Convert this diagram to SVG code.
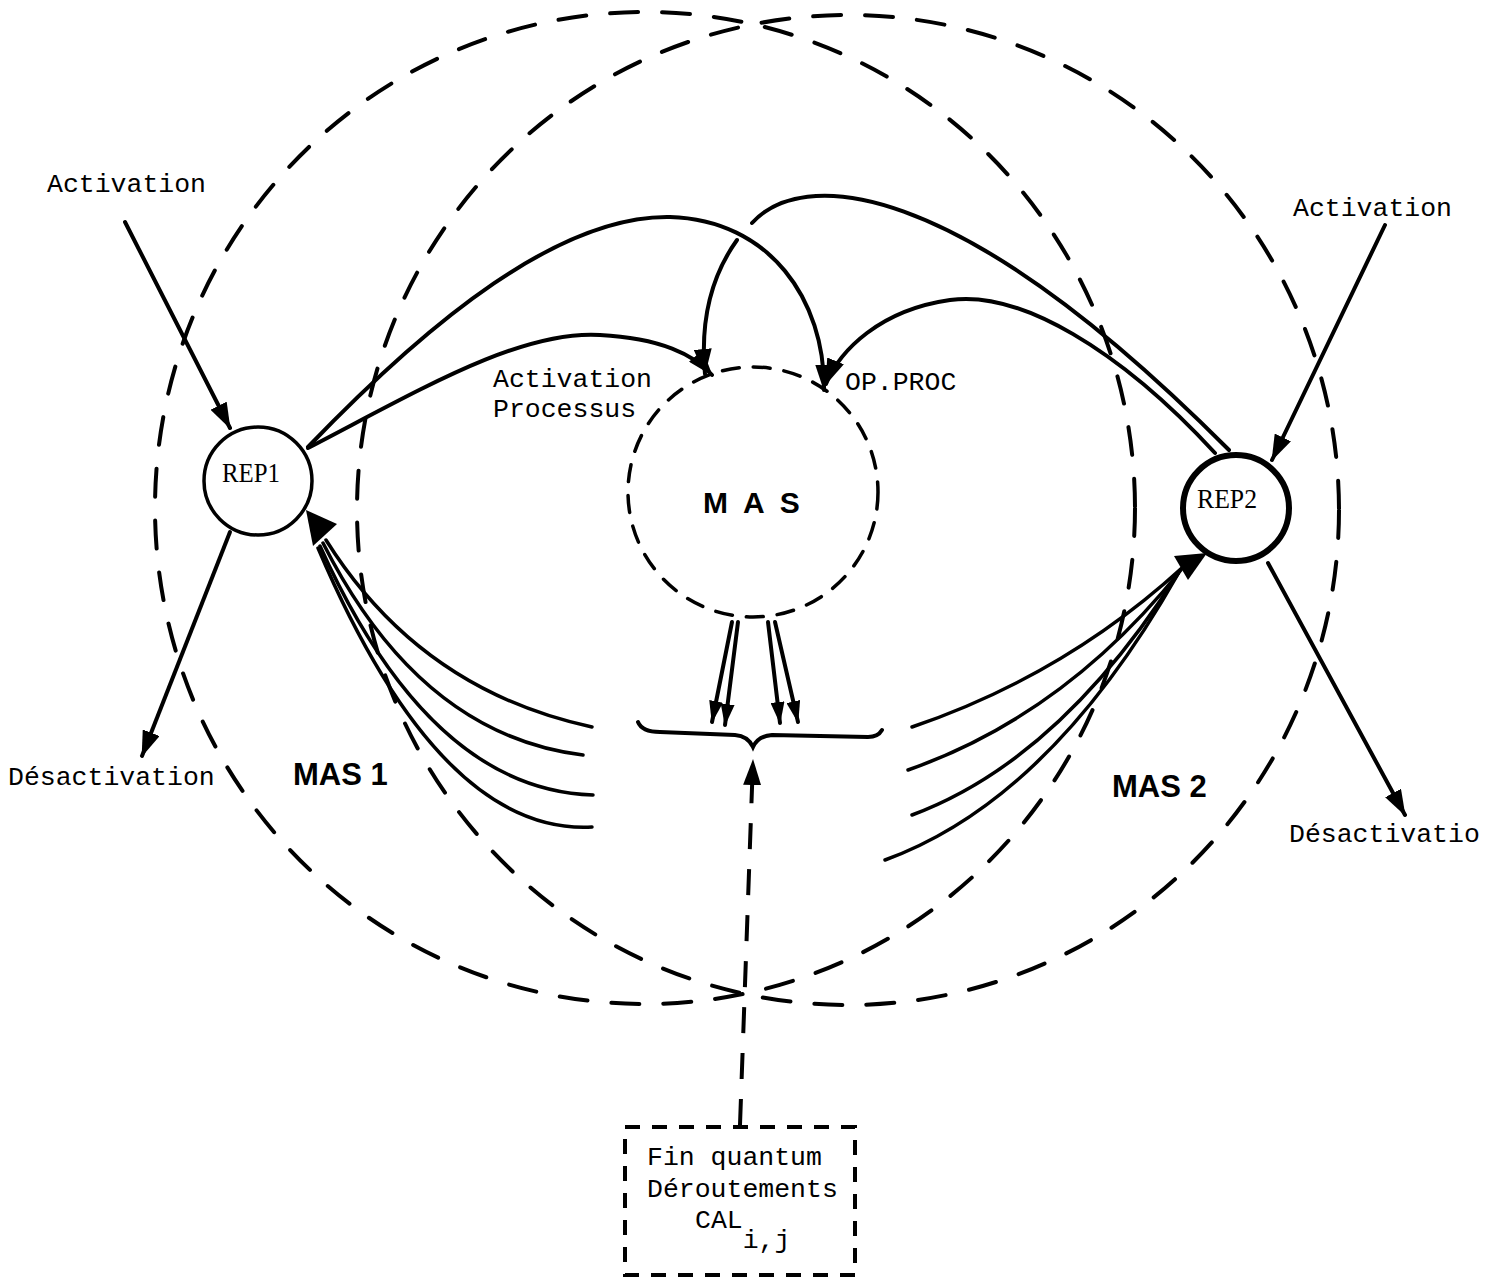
<svg xmlns="http://www.w3.org/2000/svg" width="1495" height="1286" viewBox="0 0 1495 1286">
<style>
.mono{font-family:"Liberation Mono","DejaVu Sans Mono",monospace;font-size:26.5px;fill:#000}
.serif{font-family:"Liberation Serif","Times New Roman",serif;font-size:27px;fill:#000}
.bold{font-family:"Liberation Sans",Arial,sans-serif;font-weight:bold;font-size:31px;fill:#000}
.line{fill:none;stroke:#000;stroke-width:4;stroke-linecap:round}
.thin{fill:none;stroke:#000;stroke-width:3.5;stroke-linecap:round}
.big{fill:none;stroke:#000;stroke-width:4;stroke-dasharray:28 24;stroke-linecap:round}
.mas{fill:none;stroke:#000;stroke-width:3.5;stroke-dasharray:17 14;stroke-linecap:round}
.box{fill:none;stroke:#000;stroke-width:4;stroke-dasharray:15 12}
.vdash{fill:none;stroke:#000;stroke-width:4;stroke-dasharray:26 20}
.head{fill:#000;stroke:none}
</style>
<defs>
<marker id="ah" viewBox="0 0 26 18" refX="25" refY="9" markerWidth="26" markerHeight="18" markerUnits="userSpaceOnUse" orient="auto"><path d="M0,0 L26,9 L0,18 z" fill="#000"/></marker>
<marker id="ahs" viewBox="0 0 22 14" refX="21" refY="7" markerWidth="22" markerHeight="14" markerUnits="userSpaceOnUse" orient="auto"><path d="M0,0 L22,7 L0,14 z" fill="#000"/></marker>
</defs>
<rect x="0" y="0" width="1495" height="1286" fill="#fff"/>

<g id="mas1-region">
<ellipse class="big" cx="645" cy="508" rx="490" ry="496"/>
<text class="bold" x="293" y="785">MAS 1</text>
</g>
<g id="mas2-region">
<ellipse class="big" cx="848" cy="510" rx="491" ry="495"/>
<text class="bold" x="1112" y="797">MAS 2</text>
</g>

<g id="node-mas">
<circle class="mas" cx="753" cy="492" r="125"/>
<text class="bold" x="703" y="513" style="font-size:30px;letter-spacing:3.9px">M A S</text>
</g>

<g id="node-rep1">
<circle cx="258" cy="481" r="54" fill="#fff" stroke="#000" stroke-width="3.5"/>
<text class="serif" x="222" y="482" textLength="58" lengthAdjust="spacingAndGlyphs">REP1</text>
</g>

<g id="node-rep2">
<circle cx="1236" cy="508" r="53" fill="#fff" stroke="#000" stroke-width="6"/>
<text class="serif" x="1197" y="508" textLength="60" lengthAdjust="spacingAndGlyphs">REP2</text>
</g>

<g id="node-box">
<rect class="box" x="625" y="1127" width="230" height="148"/>
<text class="mono" x="647" y="1165">Fin quantum</text>
<text class="mono" x="647" y="1197">Déroutements</text>
<text class="mono" x="695" y="1228">CAL<tspan dy="20">i,j</tspan></text>
</g>

<g id="brace">
<path class="line" d="M638,722 Q642,732 660,732 L735,735 Q748,736 753,747 Q758,736 772,735 L868,737 Q878,737 882,730"/>
</g>

<g id="labels">
<text class="mono" x="47" y="192">Activation</text>
<text class="mono" x="1293" y="216">Activation</text>
<text class="mono" x="8" y="785">Désactivation</text>
<text class="mono" x="1289" y="842">Désactivatio</text>
<text class="mono" x="493" y="387">Activation</text>
<text class="mono" x="493" y="417">Processus</text>
<text class="mono" x="845" y="390">OP.PROC</text>
</g>

<g id="connectors">
<path class="line" d="M125,222 L230,428" marker-end="url(#ah)"/>
<path class="line" d="M230,532 L142,756" marker-end="url(#ah)"/>
<path class="line" d="M1385,225 L1272,460" marker-end="url(#ah)"/>
<path class="line" d="M1268,563 L1405,815" marker-end="url(#ah)"/>

<path class="line" d="M308,447 C430,320 560,215 670,217 C770,220 825,300 824,390" marker-end="url(#ah)"/>
<path class="line" d="M308,448 C420,390 520,330 600,335 C660,338 695,355 712,375" marker-end="url(#ah)"/>
<path class="line" d="M737,240 C712,275 700,320 705,374" marker-end="url(#ah)"/>
<path class="line" d="M752,223 C800,170 950,170 1229,450"/>
<path class="line" d="M1215,453 C1120,350 1020,290 950,300 C880,310 840,350 826,384" marker-end="url(#ah)"/>

<path class="thin" d="M592,727 Q420,690 326,540"/>
<path class="thin" d="M583,755 Q420,735 323,543"/>
<path class="thin" d="M593,795 Q430,790 320,546"/>
<path class="thin" d="M592,827 Q440,835 318,548"/>
<polygon class="head" points="306,510 337,524 313,546"/>

<path class="thin" d="M912,727 Q1065,675 1183,567"/>
<path class="thin" d="M908,770 Q1065,715 1181,570"/>
<path class="thin" d="M912,815 Q1060,760 1179,572"/>
<path class="thin" d="M885,860 Q1050,800 1178,574"/>
<polygon class="head" points="1207,553 1188,580 1174,556"/>

<path class="line" d="M732,622 L712,722" marker-end="url(#ahs)"/>
<path class="line" d="M738,622 L725,725" marker-end="url(#ahs)"/>
<path class="line" d="M768,622 L780,723" marker-end="url(#ahs)"/>
<path class="line" d="M775,622 L798,722" marker-end="url(#ahs)"/>

<path class="vdash" d="M740,1125 L753,760" marker-end="url(#ah)"/>
</g>
</svg>
